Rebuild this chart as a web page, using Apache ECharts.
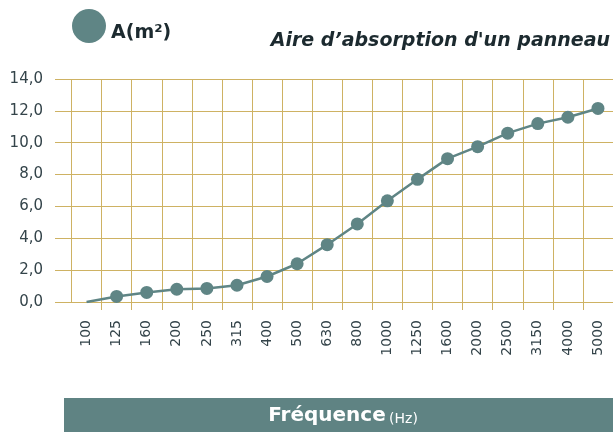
<!DOCTYPE html>
<html>
<head>
<meta charset="UTF-8">
<title>Aire d'absorption</title>
<script src="https://cdn.jsdelivr.net/npm/echarts@6/dist/echarts.min.js"></script>
<style>
  html, body { margin: 0; padding: 0; background: #fff; }
  #chart { width: 613px; height: 432px; }
</style>
</head>
<body>
<div id="chart"></div>
<script>
// frequences (Hz)
var frequences = ['100', '125', '160', '200', '250', '315', '400', '500', '630', '800',
  '1000', '1250', '1600', '2000', '2500', '3150', '4000', '5000'];
// aire d'absorption A (m2)
var aire = [0, 0.35, 0.6, 0.8, 0.85, 1.05, 1.6, 2.4, 3.6, 4.9,
  6.35, 7.7, 9.0, 9.75, 10.6, 11.2, 11.6, 12.15];
var yTicks = [0, 2, 4, 6, 8, 10, 12, 14];

var or = '#ceb263';
var vert = '#5f8585';
var texte = '#34444a';
var police = 'DejaVu Sans';

var chart = echarts.init(document.getElementById('chart'));

var points = aire.map(function (v, i) {
  // pas de marqueur pour 100 Hz
  return i === 0 ? { value: v, symbol: 'none' } : v;
});

var option = {
  animation: false,
  title: {
    text: 'Aire d\u2019absorption d\'un panneau',
    right: -2,
    top: 27,
    textStyle: { fontFamily: police, fontStyle: 'italic', fontWeight: 'bold', fontSize: 19, color: '#1c2a2f' }
  },
  legend: {
    data: ['A(m\u00b2)'],
    left: 67,
    top: 4,
    icon: 'circle',
    itemWidth: 34,
    itemHeight: 34,
    itemGap: 6,
    formatter: '{t|{name}}',
    textStyle: {
      rich: {
        t: { fontFamily: police, fontWeight: 'bold', fontSize: 19, color: '#1c2a2f', padding: [14, 0, 0, 0] }
      }
    }
  },
  grid: [
    { left: 55, right: 0, top: 79, bottom: 130 },
    { left: 71.5, right: -4.8, top: 79, bottom: 130 }
  ],
  xAxis: [
    { gridIndex: 0, type: 'value', show: false },
    {
      gridIndex: 1,
      type: 'category',
      data: frequences,
      axisLine: { show: true, lineStyle: { color: or, width: 1 } },
      axisTick: {
        show: true, length: 8, lineStyle: { color: or },
        interval: function (i) { return i > 0; }
      },
      splitLine: { show: true, lineStyle: { color: or, width: 1 } },
      axisLabel: { rotate: 90, margin: 18, fontSize: 14, color: texte, fontFamily: police }
    }
  ],
  yAxis: [
    {
      gridIndex: 0,
      type: 'value',
      min: 0,
      max: 14,
      interval: 2,
      axisLine: { show: false },
      axisTick: { show: false },
      splitLine: { show: true, lineStyle: { color: or, width: 1 } },
      axisLabel: {
        margin: 12,
        fontSize: 15,
        color: texte,
        fontFamily: police,
        formatter: function (v) {
          return yTicks.indexOf(v) >= 0 ? v.toFixed(1).replace('.', ',') : '';
        }
      }
    },
    { gridIndex: 1, type: 'value', min: 0, max: 14, show: false }
  ],
  series: [{
    name: 'A(m\u00b2)',
    type: 'line',
    xAxisIndex: 1,
    yAxisIndex: 1,
    data: points,
    color: vert,
    symbol: 'circle',
    symbolSize: 13,
    lineStyle: { color: vert, width: 2.5 },
    itemStyle: { color: vert }
  }],
  graphic: [
    {
      type: 'rect',
      left: 64,
      top: 398,
      shape: { width: 560, height: 34 },
      style: { fill: '#5f8383' }
    },
    {
      type: 'text',
      x: 343,
      y: 416,
      style: {
        text: '{a|Fr\u00e9quence} {b|(Hz)}',
        align: 'center',
        verticalAlign: 'middle',
        rich: {
          a: { fontFamily: police, fontSize: 20, fontWeight: 'bold', fill: '#ffffff', verticalAlign: 'bottom' },
          b: { fontFamily: police, fontSize: 14, fill: '#ffffff', verticalAlign: 'bottom' }
        }
      }
    }
  ]
};

if (option && typeof option === 'object') {
  chart.setOption(option, true);
}
</script>
</body>
</html>
